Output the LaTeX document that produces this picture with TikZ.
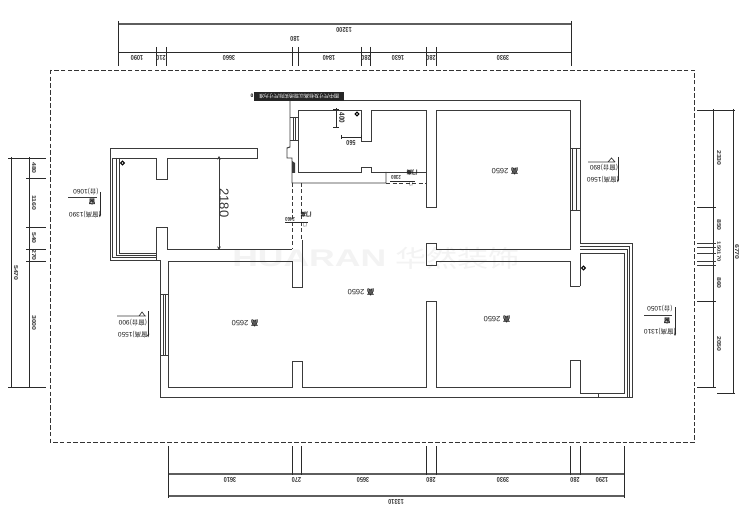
\documentclass[tikz,border=0pt]{standalone}
\usepackage{fontspec}
\setmainfont{Liberation Sans}
\newfontfamily\cjk{Noto Sans CJK SC}
\usetikzlibrary{arrows.meta}
\definecolor{wallc}{HTML}{3A3A3A}
\definecolor{dimc}{HTML}{2A2A2A}
\definecolor{thickc}{HTML}{5E5E5E}
\definecolor{markc}{HTML}{F3F3F3}
\tikzset{
  wall/.style={draw=wallc,line width=0.95pt,line join=miter},
  thin wall/.style={draw=wallc,line width=0.7pt},
  door/.style={draw=wallc,line width=0.85pt,dash pattern=on 4pt off 2.5pt},
  border line/.style={draw=black!80,line width=0.85pt,dash pattern=on 4.5pt off 2.2pt},
  dim/.style={draw=dimc,line width=0.95pt},
  dim heavy/.style={draw=thickc,line width=1.6pt},
  tick/.style={draw=dimc,line width=0.95pt},
  dimtext/.style={inner sep=0pt,font=\fontsize{7}{7}\selectfont\bfseries,text=black!80,xscale=.8},
  flip/.style={dimtext,rotate=180},
  down/.style={dimtext,rotate=270},
  room/.style={inner sep=0pt,font=\fontsize{7.5}{7.5}\selectfont,text=black!85,rotate=180},
  note/.style={inner sep=0pt,font=\fontsize{6.5}{6.5}\selectfont,text=black!90,rotate=180},
  pointer/.style={draw=dimc,line width=0.8pt,-{Stealth[length=2.5pt,width=2pt]}},
}
\begin{document}
\begin{tikzpicture}[x=1pt,y=-1pt]
\useasboundingbox (0,0) rectangle (750,513);
\fill[white] (0,0) rectangle (750,513);

% watermark
\node[inner sep=0pt,anchor=west,text=markc,font=\fontsize{24}{24}\selectfont\bfseries,xscale=1.48] (wm1) at (232,258) {HUARAN};
\node[inner sep=0pt,anchor=west,text=markc,font=\fontsize{24}{24}\selectfont\cjk,xscale=1.3] (wm2) at (395,258) {华然装饰};

% drawing border
\draw[border line] (50,70) rectangle (694,442);

% outer shell
\draw[wall] (290,100) -- (580,100) -- (580,243) -- (632,243) -- (632,397) -- (160,397) -- (160,260) -- (110,260) -- (110,148) -- (257,148) -- (257,158) -- (167,158);
% left balcony
\draw[wall] (119,158) -- (119,253) -- (156,253);
\draw[thin wall] (112.5,158) -- (112.5,257) -- (156,257);
\draw[thin wall] (116,158) -- (116,255) -- (156,255);
\draw[wall] (112,158) -- (156,158) -- (156,179) -- (167,179) -- (167,158);
\draw[wall] (156,260) -- (156,227) -- (167,227) -- (167,249) -- (292,249);
% living room
\draw[wall] (302,240) -- (302,287) -- (292,287) -- (292,261) -- (168,261) -- (168,387) -- (292,387) -- (292,361) -- (302,361) -- (302,387) -- (426,387) -- (426,301) -- (436,301) -- (436,387) -- (570,387) -- (570,360) -- (580,360) -- (580,393) -- (624,393) -- (624,253) -- (580,253);
% window, left wall
\draw[thin wall] (160,294) -- (168,294) (160,355) -- (168,355) (163,294) -- (163,355) (165.5,294) -- (165.5,355);
% right balcony
\draw[thin wall] (580,246) -- (629.5,246) -- (629.5,397) (580,249.5) -- (627,249.5) -- (627,397);
\draw[thin wall] (598,393) -- (598,397);
% partition walls
\draw[wall] (580,286) -- (570,286) -- (570,261) -- (436,261) -- (436,265) -- (426,265) -- (426,243) -- (436,243) -- (436,249) -- (570,249) -- (570,110) -- (436,110) -- (436,207) -- (426,207) -- (426,110) -- (371,110) -- (371,141) -- (361,141) -- (361,110) -- (298,110) -- (298,172) -- (361,172) -- (361,167) -- (371,167) -- (371,172) -- (426,172);
\draw[wall] (580,253) -- (580,286);
% window, right wall
\draw[thin wall] (570,148) -- (580,148) (570,210) -- (580,210) (572.5,148) -- (572.5,210) (576,148) -- (576,210);
% window and pier, kitchen
\draw[wall] (290,100) -- (290,147) -- (287,148) -- (287,158) -- (292,158) -- (292,183) -- (386,183) -- (386,172);
\draw[thin wall] (290,117) -- (298,117) (290,140) -- (298,140) (293,117) -- (293,140) (295.5,117) -- (295.5,140);
\fill[wallc] (292,161) -- (295,163) -- (295,173) -- (292,173) -- cycle;
\draw[door] (386,183) -- (426,183);
\draw[door] (292,183) -- (292,249) (301.5,183) -- (301.5,240);

% note bar
\fill[black!85] (254,92) rectangle (344,101);
\node[inner sep=0pt,text=white,font=\fontsize{5}{5}\selectfont,rotate=180] (bar) at (299,96.5) {\cjk 图中尺寸及标高以现场实际尺寸为准};
\node[inner sep=0pt,font=\fontsize{5}{5}\selectfont\bfseries] (barO) at (252,96) {0};

% columns
\node[circle,draw=black,line width=1.1pt,inner sep=0pt,minimum size=3.6pt] (col1) at (122.5,163) {};
\node[circle,draw=black,line width=1.1pt,inner sep=0pt,minimum size=3.6pt] (col2) at (583.5,268) {};
\node[circle,draw=black,line width=1.1pt,inner sep=0pt,minimum size=3.6pt] (col3) at (357,114) {};

% kitchen dimensions
\coordinate (k1) at (336,108); \coordinate (k2) at (336,128);
\coordinate (k3) at (341,137); \coordinate (k4) at (362,137);
\draw[dim] (k1) -- (k2);
\draw[dim] (333,109) -- (339,109) (333,127) -- (339,127);
\draw[dim] (k3) -- (k4);
\draw[dim] (341,135) -- (341,139) (361,135) -- (361,139);
\node[inner sep=0pt,font=\fontsize{7.5}{7.5}\selectfont\bfseries,rotate=270,xscale=.85,text=black!85] (d400) at (342,118) {400};
\node[flip] (d560) at (351,143) {560};

% door notes
\node[flip,font=\fontsize{5.5}{5.5}\selectfont\bfseries] (d2380) at (396,177) {2380};
\draw[dim,line width=.7pt] (390,181) -- (415,181);
\node[note,font=\fontsize{5.5}{5.5}\selectfont\cjk\bfseries] (n2380a) at (412,173) {门高};
\node[note,font=\fontsize{4}{4}\selectfont\cjk] (n2380b) at (411,184) {门};
\node[flip,font=\fontsize{5.5}{5.5}\selectfont\bfseries] (d2460) at (290,219) {2460};
\draw[dim,line width=.7pt] (285,222) -- (308,222);
\node[note,font=\fontsize{5.5}{5.5}\selectfont\cjk\bfseries] (n2460a) at (306,215) {门高};
\node[note,font=\fontsize{4}{4}\selectfont\cjk] (n2460b) at (305,225) {门};

% 2180
\coordinate (h1) at (219,156); \coordinate (h2) at (219,250);
\draw[thin wall,{Stealth[length=3.5pt,width=3.5pt]}-{Stealth[length=3.5pt,width=3.5pt]}] (h1) -- (h2);
\node[inner sep=0pt,rotate=270,font=\fontsize{13}{13}\selectfont,text=black!80] (d2180) at (224,203) {2180};

% top dimensions
\coordinate (t1) at (118,24); \coordinate (t2) at (571,24);
\coordinate (t3) at (118,52); \coordinate (t4) at (571,52);
\draw[dim heavy] (t1) -- (t2);
\draw[dim] (t3) -- (t4);
\draw[tick] (118,21) -- (118,66) (571,21) -- (571,66);
\foreach \x in {156,166.5,292,298,361,370,426,436} \draw[tick] (\x,47) -- (\x,66);
\node[flip] (t13200) at (344,30) {13200};
\node[flip] (t180) at (295,39) {180};
\node[flip] (t1090) at (137,58) {1090};
\node[flip] (t210) at (161,58) {210};
\node[flip] (t3660) at (229,58) {3660};
\node[flip] (t1840) at (329,58) {1840};
\node[flip] (t280a) at (366,58) {280};
\node[flip] (t1630) at (398,58) {1630};
\node[flip] (t280b) at (431,58) {280};
\node[flip] (t3930) at (503,58) {3930};

% bottom dimensions
\coordinate (b1) at (168,474); \coordinate (b2) at (624,474);
\coordinate (b3) at (168,496); \coordinate (b4) at (624,496);
\draw[dim heavy] (b1) -- (b2);
\draw[dim heavy] (b3) -- (b4);
\draw[tick] (168,446) -- (168,498) (624,446) -- (624,498);
\foreach \x in {292,301.5,426,436,570,580} \draw[tick] (\x,446) -- (\x,475);
\node[flip] (b3610) at (230,480) {3610};
\node[flip] (b270) at (296.5,480) {270};
\node[flip] (b3650) at (363,480) {3650};
\node[flip] (b280a) at (431,480) {280};
\node[flip] (b3930) at (503,480) {3930};
\node[flip] (b280b) at (575,480) {280};
\node[flip] (b1290) at (602,480) {1290};
\node[flip] (b13310) at (396,502) {13310};

% left dimensions
\coordinate (l1) at (11,157); \coordinate (l2) at (11,388);
\coordinate (l3) at (29,157); \coordinate (l4) at (29,388);
\draw[dim] (l1) -- (l2);
\draw[dim] (l3) -- (l4);
\draw[tick] (8,158) -- (46,158) (8,387) -- (46,387);
\foreach \y in {178,227,249,261} \draw[tick] (26,\y) -- (46,\y);
\node[down] (l480) at (34,168) {480};
\node[down] (l1160) at (34,203) {1160};
\node[down] (l540) at (34,238) {540};
\node[down] (l270) at (34,255) {270};
\node[down] (l3000) at (34,323) {3000};
\node[down] (l5470) at (16,273) {5470};

% right dimensions
\coordinate (r1) at (713,109); \coordinate (r2) at (713,388);
\coordinate (r3) at (733,109); \coordinate (r4) at (733,394);
\draw[dim] (r1) -- (r2);
\draw[dim] (r3) -- (r4);
\draw[tick] (697,110) -- (735,110) (717,393) -- (735,393);
\foreach \y in {207,301,387} \draw[tick] (697,\y) -- (716,\y);
\foreach \y in {243,247,253,261,265} \draw[thin wall] (697,\y) -- (716,\y);
\node[down] (r2330) at (719,158) {2330};
\node[down] (r850) at (719,225) {850};
\node[down,font=\fontsize{6}{6}\selectfont\bfseries] (r150) at (719,247) {150};
\node[down,font=\fontsize{6}{6}\selectfont\bfseries] (r170) at (719,257) {170};
\node[down] (r860) at (719,283) {860};
\node[down] (r2050) at (719,344) {2050};
\node[down] (r6770) at (737,252) {6770};

% room heights
\node[room] (h1a) at (245,323) {{\cjk\bfseries 高}\,\,2650};
\node[room] (h1b) at (361,292) {{\cjk\bfseries 高}\,\,2650};
\node[room] (h1c) at (497,319) {{\cjk\bfseries 高}\,\,2650};
\node[room] (h1d) at (505,171) {{\cjk\bfseries 高}\,\,2650};

% window notes
\coordinate (wa1) at (100,192); \coordinate (wa2) at (100,217);
\draw[thin wall] (68,197) -- (97,197);
\draw[pointer] (wa1) -- (wa2);
\node[note] (wa3) at (86,192) {{\cjk (台)}1060};
\node[note] (wa4) at (92,202.5) {\cjk\bfseries 窗};
\node[note] (wa5) at (85,215) {{\cjk (窗高)}1390};

\coordinate (wb1) at (148,311); \coordinate (wb2) at (148,337);
\draw[thin wall] (117,316) -- (146,316) (139,316) -- (142,312) -- (145,316);
\draw[pointer] (wb1) -- (wb2);
\node[note] (wb3) at (133,323) {{\cjk (窗台)}900};
\node[note] (wb4) at (134,335) {{\cjk (窗高)}1550};

\coordinate (wc1) at (618,157); \coordinate (wc2) at (618,182);
\draw[thin wall] (588,162) -- (615,162) (608,162) -- (611.5,158) -- (615,162);
\draw[pointer] (wc1) -- (wc2);
\node[note] (wc3) at (604,168) {{\cjk (窗台)}890};
\node[note] (wc4) at (603,180) {{\cjk (窗高)}1560};

\coordinate (wd1) at (675,307); \coordinate (wd2) at (675,336);
\draw[thin wall] (644,315) -- (672,315);
\draw[pointer] (wd1) -- (wd2);
\node[note] (wd3) at (660,309) {{\cjk (台)}1050};
\node[note] (wd4) at (667,320.5) {\cjk\bfseries 窗};
\node[note] (wd5) at (660,332) {{\cjk (窗高)}1310};
\end{tikzpicture}
\end{document}
